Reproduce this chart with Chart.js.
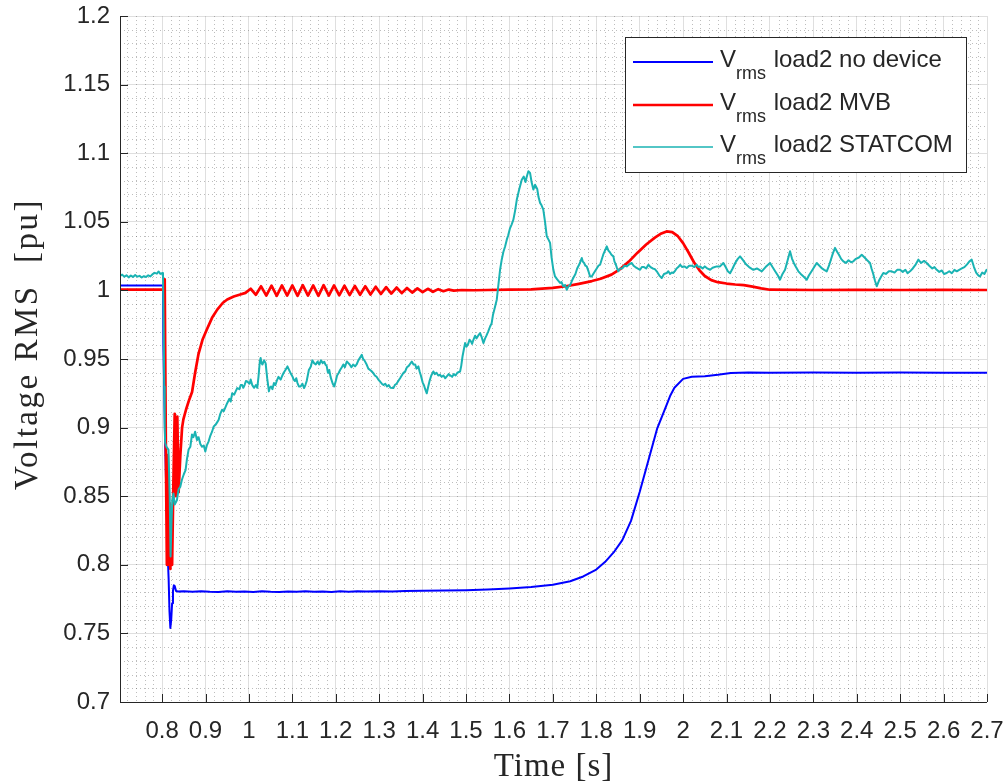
<!DOCTYPE html>
<html>
<head>
<meta charset="utf-8">
<title>Vrms load2</title>
<script src="https://cdn.jsdelivr.net/npm/chart.js@4.4.1/dist/chart.umd.min.js"></script>
<style>
  html, body { margin: 0; padding: 0; background: #ffffff; }
  #wrap { width: 1008px; height: 784px; position: relative; }
</style>
</head>
<body>
<div id="wrap"><canvas id="chart"></canvas></div>
<script>
// ---- axis ticks ----
const xTicks = [0.8, 0.9, 1.0, 1.1, 1.2, 1.3, 1.4, 1.5, 1.6, 1.7, 1.8, 1.9, 2.0, 2.1, 2.2, 2.3, 2.4, 2.5, 2.6, 2.7];
const yTicks = [0.7, 0.75, 0.8, 0.85, 0.9, 0.95, 1.0, 1.05, 1.1, 1.15, 1.2];
const xRange = [0.703, 2.7];
const yRange = [0.7, 1.2];

// ---- series labels ----
const seriesNames = ['load2 no device', 'load2 MVB', 'load2 STATCOM'];

// ---- Vrms load2, no device: [time s, voltage pu] ----
const noDevicePoints = [
  [0.703, 1.0036], [0.802, 1.0036], [0.803, 0.960], [0.805, 0.925], [0.807, 0.889], [0.809, 0.862], [0.811, 0.835], [0.813, 0.806],
  [0.815, 0.790], [0.817, 0.766], [0.819, 0.754], [0.821, 0.760], [0.823, 0.772], [0.825, 0.781], [0.827, 0.785], [0.829, 0.7845],
  [0.832, 0.781], [0.836, 0.7805], [0.85, 0.7807], [0.87, 0.7803], [0.89, 0.7808], [0.91, 0.7804], [0.93, 0.7802], [0.95, 0.7808],
  [0.97, 0.7803], [0.99, 0.7806], [1.01, 0.7802], [1.03, 0.7807], [1.05, 0.7803], [1.07, 0.7801], [1.09, 0.7806], [1.11, 0.7804],
  [1.13, 0.7808], [1.15, 0.7803], [1.17, 0.7806], [1.19, 0.7802], [1.21, 0.7807], [1.23, 0.7804], [1.25, 0.7808], [1.27, 0.7805],
  [1.30, 0.7807], [1.33, 0.7806], [1.36, 0.7809], [1.40, 0.7810], [1.45, 0.7812], [1.50, 0.7815], [1.55, 0.7820], [1.60, 0.7828],
  [1.65, 0.7838], [1.70, 0.7855], [1.74, 0.7880], [1.77, 0.7915], [1.80, 0.7965], [1.82, 0.8020], [1.84, 0.8090], [1.86, 0.8180],
  [1.88, 0.8320], [1.90, 0.8530], [1.92, 0.8760], [1.94, 0.8990], [1.96, 0.9150], [1.97, 0.9230], [1.98, 0.9290], [2.00, 0.9355],
  [2.02, 0.9370], [2.05, 0.9375], [2.08, 0.9385], [2.11, 0.9398], [2.15, 0.9402], [2.20, 0.9400], [2.30, 0.9401], [2.40, 0.9400],
  [2.50, 0.9401], [2.60, 0.9400], [2.70, 0.9400]
];

// ---- Vrms load2, MVB: [time s, voltage pu] ----
const mvbPoints = [
  [0.703, 1.0005], [0.805, 1.0005], [0.806, 1.008], [0.807, 0.960], [0.809, 0.870], [0.811, 0.800], [0.813, 0.880], [0.815, 0.800],
  [0.817, 0.845], [0.819, 0.797], [0.821, 0.830], [0.823, 0.800], [0.826, 0.860], [0.829, 0.910], [0.832, 0.850], [0.835, 0.908],
  [0.838, 0.853], [0.842, 0.880], [0.846, 0.900], [0.849, 0.906], [0.855, 0.913], [0.862, 0.920], [0.869, 0.926], [0.876, 0.940],
  [0.884, 0.954], [0.893, 0.964], [0.903, 0.9715], [0.915, 0.980], [0.927, 0.986], [0.940, 0.991], [0.950, 0.9934], [0.965, 0.9955],
  [0.980, 0.997], [0.992, 0.9982], [1.004, 1.0012], [1.016, 0.9968], [1.028, 1.0030], [1.040, 0.9962], [1.052, 1.0034], [1.064, 0.9960],
  [1.076, 1.0036], [1.088, 0.9962], [1.100, 1.0036], [1.112, 0.9960], [1.124, 1.0038], [1.136, 0.9962], [1.148, 1.0036], [1.160, 0.9960],
  [1.172, 1.0038], [1.184, 0.9962], [1.196, 1.0036], [1.208, 0.9964], [1.220, 1.0034], [1.232, 0.9966], [1.244, 1.0032], [1.256, 0.9968],
  [1.268, 1.0030], [1.280, 0.9970], [1.292, 1.0027], [1.304, 0.9974], [1.316, 1.0024], [1.328, 0.9977], [1.340, 1.0021], [1.352, 0.9980],
  [1.364, 1.0018], [1.376, 0.9984], [1.388, 1.0015], [1.400, 0.9987], [1.412, 1.0012], [1.424, 0.9990], [1.436, 1.0009], [1.448, 0.9994],
  [1.460, 1.0006], [1.472, 0.9998], [1.490, 1.0003], [1.520, 1.0001], [1.550, 1.0003], [1.600, 1.0005], [1.650, 1.0008], [1.700, 1.0018],
  [1.730, 1.0030], [1.760, 1.0048], [1.790, 1.0068], [1.810, 1.0085], [1.835, 1.0115], [1.855, 1.0155], [1.875, 1.0210], [1.895, 1.0275],
  [1.915, 1.0335], [1.935, 1.0385], [1.950, 1.0415], [1.962, 1.0430], [1.975, 1.0425], [1.988, 1.0395], [2.000, 1.0345], [2.012, 1.0280],
  [2.025, 1.0205], [2.038, 1.0145], [2.050, 1.0105], [2.065, 1.0075], [2.080, 1.0060], [2.100, 1.0050], [2.120, 1.0043], [2.140, 1.0038],
  [2.160, 1.0028], [2.180, 1.0015], [2.200, 1.0005], [2.300, 1.0003], [2.400, 1.0004], [2.500, 1.0003], [2.600, 1.0004], [2.700, 1.0003]
];

// ---- Vrms load2, STATCOM: [time s, voltage pu] ----
const statcomPoints = [
  [0.703, 1.0105], [0.708, 1.0115], [0.713, 1.0100], [0.718, 1.0110], [0.723, 1.0095], [0.728, 1.0108], [0.733, 1.0098], [0.738, 1.0112],
  [0.743, 1.0100], [0.748, 1.0106], [0.753, 1.0094], [0.758, 1.0104], [0.763, 1.0098], [0.768, 1.0110], [0.773, 1.0102], [0.778, 1.0118],
  [0.783, 1.0128], [0.788, 1.0122], [0.792, 1.0138], [0.796, 1.0120], [0.800, 1.0126], [0.802, 1.0105],
  [0.8035, 0.975], [0.805, 0.930], [0.806, 0.900], [0.807, 0.889], [0.810, 0.886], [0.8146, 0.884], [0.8175, 0.850], [0.8195, 0.806],
  [0.8215, 0.830], [0.8235, 0.847], [0.826, 0.852], [0.829, 0.844], [0.834, 0.847], [0.838, 0.855], [0.842, 0.857], [0.8456, 0.862],
  [0.850, 0.866], [0.854, 0.869],
  [0.8572, 0.877], [0.861, 0.884], [0.865, 0.886], [0.8688, 0.895], [0.872, 0.893], [0.876, 0.897], [0.8803, 0.891], [0.884, 0.893],
  [0.888, 0.888], [0.8919, 0.886], [0.896, 0.887], [0.8995, 0.8826], [0.903, 0.887], [0.9072, 0.890], [0.911, 0.894], [0.915, 0.897],
  [0.9188, 0.9008], [0.923, 0.902], [0.927, 0.904], [0.9303, 0.9057], [0.934, 0.910], [0.938, 0.913], [0.942, 0.912], [0.946, 0.915],
  [0.9498, 0.9178], [0.955, 0.921], [0.958, 0.919], [0.9613, 0.925], [0.966, 0.924], [0.9729, 0.9288], [0.978, 0.928], [0.981, 0.931],
  [0.9845, 0.931], [0.987, 0.929], [0.990, 0.931], [0.993, 0.934], [0.996, 0.9336], [1.0015, 0.932], [1.004, 0.935], [1.0076, 0.931],
  [1.012, 0.929], [1.016, 0.931], [1.0192, 0.929], [1.022, 0.937], [1.025, 0.948], [1.0269, 0.9507], [1.029, 0.947], [1.031, 0.946],
  [1.035, 0.949], [1.0384, 0.947], [1.042, 0.936], [1.046, 0.9264], [1.048, 0.929], [1.051, 0.930], [1.054, 0.928], [1.0576, 0.9325],
  [1.061, 0.931], [1.064, 0.934], [1.068, 0.937], [1.0731, 0.935], [1.077, 0.938], [1.080, 0.940], [1.084, 0.942], [1.0887, 0.9446],
  [1.091, 0.943], [1.094, 0.941], [1.097, 0.939], [1.1002, 0.9373], [1.103, 0.935], [1.106, 0.934], [1.109, 0.936], [1.1118, 0.9325],
  [1.115, 0.930], [1.119, 0.930], [1.123, 0.932], [1.127, 0.9288], [1.130, 0.931], [1.133, 0.934], [1.138, 0.942], [1.1426, 0.9446],
  [1.146, 0.949], [1.150, 0.947], [1.154, 0.946], [1.1581, 0.9482], [1.162, 0.946], [1.166, 0.949], [1.170, 0.947], [1.1734, 0.948],
  [1.176, 0.946], [1.179, 0.945], [1.182, 0.940], [1.185, 0.942], [1.188, 0.937], [1.190, 0.935], [1.193, 0.932], [1.1965, 0.930],
  [1.200, 0.934], [1.203, 0.938], [1.207, 0.940], [1.210, 0.942], [1.214, 0.944], [1.2175, 0.946], [1.221, 0.944], [1.2254, 0.9482],
  [1.229, 0.947], [1.232, 0.946], [1.236, 0.944], [1.240, 0.946], [1.2445, 0.9446], [1.248, 0.946], [1.252, 0.949], [1.256, 0.951],
  [1.2599, 0.953], [1.263, 0.950], [1.266, 0.949], [1.2714, 0.9458], [1.275, 0.943], [1.279, 0.942], [1.283, 0.941], [1.2866, 0.9397],
  [1.290, 0.938], [1.294, 0.937], [1.298, 0.935], [1.3021, 0.9336], [1.306, 0.932], [1.310, 0.931], [1.314, 0.932], [1.318, 0.930],
  [1.322, 0.931], [1.326, 0.929], [1.3327, 0.9288], [1.336, 0.931], [1.340, 0.932], [1.344, 0.934], [1.3481, 0.936], [1.352, 0.938],
  [1.356, 0.940], [1.360, 0.941], [1.364, 0.944], [1.368, 0.945], [1.3751, 0.9482], [1.379, 0.946], [1.383, 0.946], [1.386, 0.943],
  [1.3903, 0.9446], [1.393, 0.941], [1.396, 0.938], [1.400, 0.933], [1.403, 0.931], [1.406, 0.928], [1.4096, 0.925], [1.413, 0.930],
  [1.416, 0.934], [1.420, 0.938], [1.4248, 0.9409], [1.428, 0.939], [1.432, 0.940], [1.436, 0.938], [1.4403, 0.9385], [1.444, 0.937],
  [1.448, 0.938], [1.452, 0.936], [1.4557, 0.9373], [1.460, 0.939], [1.464, 0.938], [1.468, 0.937], [1.472, 0.939], [1.476, 0.938],
  [1.480, 0.940], [1.4863, 0.9409], [1.489, 0.945], [1.492, 0.952], [1.4978, 0.9616], [1.501, 0.959], [1.505, 0.961], [1.508, 0.964],
  [1.511, 0.963], [1.514, 0.961], [1.517, 0.964], [1.521, 0.967], [1.524, 0.965], [1.528, 0.967], [1.5324, 0.9689], [1.536, 0.966],
  [1.540, 0.9616], [1.544, 0.965], [1.547, 0.967], [1.551, 0.970], [1.5554, 0.9737], [1.559, 0.976], [1.562, 0.982], [1.566, 0.987],
  [1.5708, 0.9932], [1.5784, 1.015], [1.582, 1.022], [1.586, 1.028], [1.590, 1.032], [1.5939, 1.037], [1.597, 1.040], [1.601, 1.045],
  [1.605, 1.048], [1.6091, 1.0516], [1.613, 1.058], [1.6169, 1.066], [1.622, 1.073], [1.6284, 1.0807], [1.633, 1.083], [1.637, 1.079],
  [1.640, 1.083], [1.6436, 1.0868], [1.6475, 1.0856], [1.651, 1.079], [1.6551, 1.0735], [1.659, 1.077], [1.664, 1.074], [1.667, 1.068],
  [1.6706, 1.0638], [1.674, 1.062], [1.678, 1.0589], [1.682, 1.050], [1.686, 1.0394], [1.690, 1.037], [1.6936, 1.0346], [1.697, 1.024],
  [1.7012, 1.015], [1.705, 1.0102], [1.710, 1.008], [1.7166, 1.0054], [1.720, 1.006], [1.724, 1.003], [1.728, 1.004], [1.732, 1.0005],
  [1.736, 1.003], [1.740, 1.004], [1.744, 1.007], [1.747, 1.009], [1.752, 1.012], [1.756, 1.016], [1.761, 1.019], [1.7666, 1.0236],
  [1.769, 1.021], [1.772, 1.020], [1.775, 1.018], [1.778, 1.0175], [1.782, 1.014], [1.7857, 1.0102], [1.7896, 1.0102], [1.793, 1.012],
  [1.797, 1.014], [1.801, 1.016], [1.805, 1.018], [1.8088, 1.0187], [1.812, 1.022], [1.816, 1.026], [1.820, 1.029], [1.8242, 1.0321],
  [1.828, 1.029], [1.831, 1.028], [1.835, 1.026], [1.8394, 1.0248], [1.842, 1.021], [1.845, 1.019], [1.848, 1.016], [1.8509, 1.0139],
  [1.855, 1.016], [1.860, 1.016], [1.865, 1.018], [1.8702, 1.0175], [1.876, 1.019], [1.8818, 1.020], [1.886, 1.018], [1.890, 1.017],
  [1.895, 1.016], [1.9009, 1.015], [1.905, 1.017], [1.910, 1.017], [1.915, 1.016], [1.920, 1.0187], [1.925, 1.017], [1.930, 1.016],
  [1.935, 1.0155], [1.9393, 1.0139], [1.945, 1.011], [1.9508, 1.009], [1.956, 1.012], [1.9624, 1.0127], [1.966, 1.014], [1.970, 1.012],
  [1.974, 1.013], [1.9776, 1.0127], [1.981, 1.014], [1.985, 1.016], [1.989, 1.017], [1.993, 1.0187], [1.998, 1.017], [2.003, 1.0175],
  [2.0084, 1.0163], [2.014, 1.018], [2.020, 1.018], [2.026, 1.017], [2.0315, 1.0187], [2.035, 1.017], [2.039, 1.0175], [2.045, 1.016],
  [2.050, 1.0175], [2.0545, 1.0163], [2.0621, 1.015], [2.068, 1.0165], [2.0775, 1.0175], [2.0851, 1.0175], [2.0927, 1.020], [2.098, 1.017],
  [2.103, 1.014], [2.1082, 1.0125], [2.114, 1.016], [2.120, 1.020], [2.126, 1.023], [2.1312, 1.0248], [2.138, 1.022], [2.145, 1.019],
  [2.152, 1.017], [2.1618, 1.015], [2.170, 1.016], [2.1812, 1.0139], [2.190, 1.017], [2.2003, 1.020], [2.206, 1.017], [2.212, 1.014],
  [2.218, 1.011], [2.2233, 1.0078], [2.229, 1.012], [2.2348, 1.015], [2.240, 1.021], [2.2463, 1.0285], [2.251, 1.023], [2.255, 1.020],
  [2.260, 1.017], [2.2655, 1.0139], [2.271, 1.012], [2.278, 1.010], [2.2848, 1.0078], [2.290, 1.011], [2.296, 1.014], [2.302, 1.017],
  [2.3078, 1.020], [2.314, 1.018], [2.320, 1.016], [2.325, 1.015], [2.3309, 1.0139], [2.336, 1.018], [2.340, 1.022], [2.345, 1.027],
  [2.350, 1.031], [2.355, 1.028], [2.359, 1.026], [2.364, 1.023], [2.3691, 1.0212], [2.375, 1.020], [2.381, 1.022], [2.387, 1.0205],
  [2.3921, 1.0212], [2.398, 1.023], [2.405, 1.024], [2.4115, 1.026], [2.418, 1.024], [2.424, 1.022], [2.4306, 1.020], [2.434, 1.016],
  [2.438, 1.012], [2.442, 1.007], [2.446, 1.003], [2.451, 1.007], [2.456, 1.010], [2.4612, 1.0127], [2.467, 1.012], [2.474, 1.014],
  [2.4805, 1.0139], [2.487, 1.013], [2.493, 1.015], [2.4997, 1.015], [2.506, 1.0135], [2.512, 1.015], [2.517, 1.0125], [2.5227, 1.0139],
  [2.529, 1.016], [2.536, 1.019], [2.5418, 1.0224], [2.548, 1.020], [2.555, 1.0215], [2.5612, 1.020], [2.567, 1.018], [2.574, 1.016],
  [2.579, 1.017], [2.5842, 1.015], [2.590, 1.0135], [2.596, 1.0145], [2.601, 1.012], [2.6072, 1.0127], [2.613, 1.014], [2.619, 1.0125],
  [2.625, 1.015], [2.6303, 1.0139], [2.636, 1.015], [2.642, 1.016], [2.648, 1.017], [2.654, 1.019], [2.659, 1.021], [2.6648, 1.0224],
  [2.670, 1.017], [2.675, 1.013], [2.680, 1.011], [2.6839, 1.0102], [2.689, 1.013], [2.694, 1.012], [2.699, 1.015]
];

// ---- styling ----
const AXIS_COLOR = '#262626';
const MAJOR_GRID = 'rgba(38,38,38,0.15)';
const MINOR_GRID = 'rgba(38,38,38,0.30)';
const TICK_FONT = { family: '"Liberation Sans", Arial, sans-serif', size: 24 };
const SERIF = '"Liberation Serif", "Times New Roman", serif';
const seriesColors = ['#0000ff', '#ff0000', '#1ab3b3'];
const seriesWidths = [2.0, 2.7, 2.0];
const legendWidths = [1.8, 2.7, 1.7];

const toXY = pts => pts.map(([t, v]) => ({ x: t, y: v }));

// minor grid positions, one fifth of the major step
function minorValues(ticks, lo, hi) {
  const step = (ticks[1] - ticks[0]) / 5;
  const out = [];
  const k0 = Math.ceil((lo - ticks[0]) / step - 1e-9);
  const k1 = Math.floor((hi - ticks[0]) / step + 1e-9);
  for (let k = k0; k <= k1; k++) {
    if (((k % 5) + 5) % 5 !== 0) out.push(ticks[0] + k * step);
  }
  return out;
}

const axesDecor = {
  id: 'axesDecor',
  beforeDatasetsDraw(chart) {
    const { ctx, chartArea: a, scales: { x, y } } = chart;
    ctx.save();
    ctx.beginPath();
    ctx.rect(a.left, a.top, a.right - a.left, a.bottom - a.top);
    ctx.clip();
    ctx.strokeStyle = MINOR_GRID;
    ctx.lineWidth = 1;
    ctx.setLineDash([1, 3]);
    for (const v of minorValues(xTicks, xRange[0], xRange[1])) {
      const px = Math.round(x.getPixelForValue(v)) + 0.5;
      ctx.beginPath(); ctx.moveTo(px, a.top); ctx.lineTo(px, a.bottom); ctx.stroke();
    }
    for (const v of minorValues(yTicks, yRange[0], yRange[1])) {
      const py = Math.round(y.getPixelForValue(v)) + 0.5;
      ctx.beginPath(); ctx.moveTo(a.left, py); ctx.lineTo(a.right, py); ctx.stroke();
    }
    ctx.restore();
  },
  afterDatasetsDraw(chart) {
    const { ctx, chartArea: a, scales: { x, y } } = chart;
    ctx.save();
    ctx.strokeStyle = AXIS_COLOR;
    ctx.lineWidth = 1;
    // inward tick marks
    for (const v of xTicks) {
      const px = Math.round(x.getPixelForValue(v)) + 0.5;
      ctx.beginPath(); ctx.moveTo(px, a.bottom); ctx.lineTo(px, a.bottom - 8); ctx.stroke();
    }
    for (const v of yTicks) {
      const py = Math.round(y.getPixelForValue(v)) + 0.5;
      ctx.beginPath(); ctx.moveTo(a.left, py); ctx.lineTo(a.left + 8, py); ctx.stroke();
    }
    // left and bottom axis lines
    ctx.beginPath();
    ctx.moveTo(Math.round(a.left) + 0.5, a.top);
    ctx.lineTo(Math.round(a.left) + 0.5, Math.round(a.bottom) + 0.5);
    ctx.lineTo(a.right, Math.round(a.bottom) + 0.5);
    ctx.stroke();
    ctx.restore();
  },
  afterDraw(chart) {
    const { ctx, chartArea: a } = chart;
    ctx.save();
    // axis titles
    ctx.fillStyle = AXIS_COLOR;
    ctx.textAlign = 'center';
    ctx.textBaseline = 'alphabetic';
    ctx.font = '33px ' + SERIF;
    ctx.letterSpacing = '1px';
    ctx.fillText('Time [s]', (a.left + a.right) / 2, 776);
    ctx.letterSpacing = '2.5px';
    ctx.translate(37, 344);
    ctx.rotate(-Math.PI / 2);
    ctx.fillText('Voltage RMS  [pu]', 0, 0);
    ctx.restore();

    // legend box
    const box = { left: 625, top: 37, right: 966, bottom: 172 };
    ctx.save();
    ctx.fillStyle = '#ffffff';
    ctx.fillRect(box.left, box.top, box.right - box.left, box.bottom - box.top);
    ctx.strokeStyle = AXIS_COLOR;
    ctx.lineWidth = 1;
    ctx.strokeRect(box.left + 0.5, box.top + 0.5, box.right - box.left, box.bottom - box.top);
    const rowY = [62, 105, 147];
    seriesNames.forEach((name, i) => {
      const cy = rowY[i];
      ctx.strokeStyle = seriesColors[i];
      ctx.lineWidth = legendWidths[i];
      ctx.beginPath(); ctx.moveTo(633, cy); ctx.lineTo(713, cy); ctx.stroke();
      ctx.fillStyle = AXIS_COLOR;
      ctx.textAlign = 'left';
      ctx.textBaseline = 'alphabetic';
      ctx.font = '24px ' + TICK_FONT.family;
      ctx.fillText('V', 720, cy + 5);
      const vw = ctx.measureText('V').width;
      ctx.font = '18px ' + TICK_FONT.family;
      ctx.fillText('rms', 720 + vw, cy + 16.5);
      const sw = ctx.measureText('rms').width;
      ctx.font = '24px ' + TICK_FONT.family;
      ctx.fillText(' ' + name, 720 + vw + sw + 1, cy + 5);
    });
    ctx.restore();
  }
};

const fmt = v => String(Number(v.toFixed(3)));

new Chart(document.getElementById('chart'), {
  type: 'line',
  data: {
    datasets: [
      { label: seriesNames[0], data: toXY(noDevicePoints), borderColor: seriesColors[0], borderWidth: seriesWidths[0], order: 3 },
      { label: seriesNames[1], data: toXY(mvbPoints), borderColor: seriesColors[1], borderWidth: seriesWidths[1], order: 2 },
      { label: seriesNames[2], data: toXY(statcomPoints), borderColor: seriesColors[2], borderWidth: seriesWidths[2], order: 1 }
    ]
  },
  options: {
    responsive: true,
    maintainAspectRatio: false,
    animation: false,
    events: [],
    layout: { padding: { left: 0, right: 21, top: 16, bottom: 0 } },
    elements: {
      point: { radius: 0 },
      line: { tension: 0, borderJoinStyle: 'round', borderCapStyle: 'round' }
    },
    plugins: { legend: { display: false }, tooltip: { enabled: false }, title: { display: false } },
    scales: {
      x: {
        type: 'linear',
        min: xRange[0], max: xRange[1],
        afterBuildTicks: s => { s.ticks = xTicks.map(v => ({ value: v })); },
        afterFit: s => { s.height = 82; s.paddingLeft = 0; s.paddingRight = 0; },
        ticks: { font: TICK_FONT, color: AXIS_COLOR, padding: 15, autoSkip: false, maxRotation: 0, callback: v => fmt(v) },
        grid: { color: MAJOR_GRID, lineWidth: 1, drawTicks: false },
        border: { display: false }
      },
      y: {
        type: 'linear',
        min: yRange[0], max: yRange[1],
        afterBuildTicks: s => { s.ticks = yTicks.map(v => ({ value: v })); },
        afterFit: s => { s.width = 120; s.paddingTop = 0; s.paddingBottom = 0; },
        ticks: { font: TICK_FONT, color: AXIS_COLOR, padding: 10, autoSkip: false, callback: v => fmt(v) },
        grid: { color: MAJOR_GRID, lineWidth: 1, drawTicks: false },
        border: { display: false }
      }
    }
  },
  plugins: [axesDecor]
});
</script>
</body>
</html>
